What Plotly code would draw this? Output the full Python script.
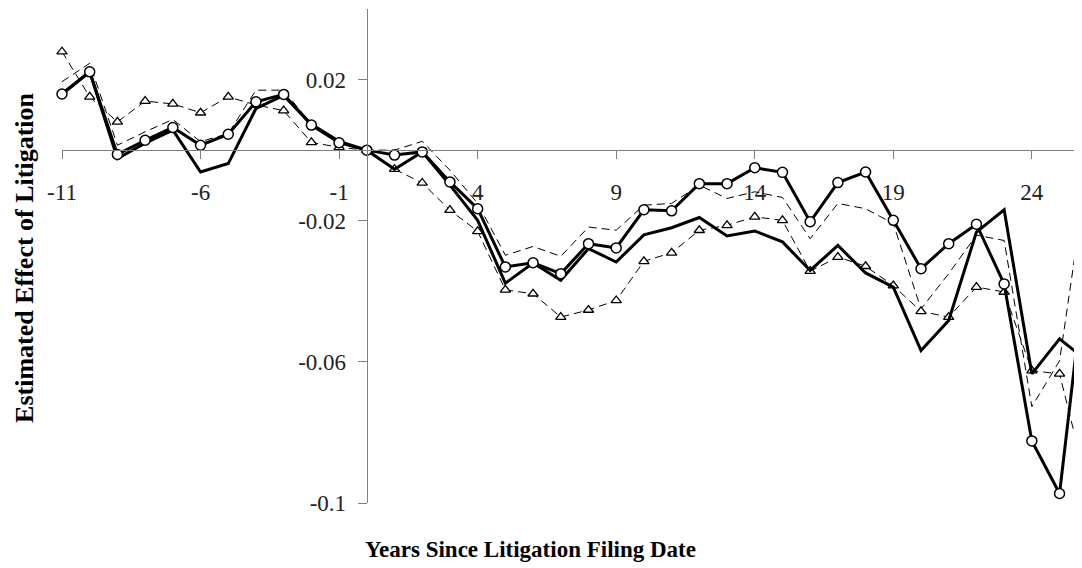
import plotly.graph_objects as go

years = list(range(-11, 27))

# Solid thick line with open circles
series_a = [0.0159, 0.0222, -0.0012, 0.0028, 0.0064, 0.0014, 0.0045, 0.0137, 0.0158, 0.0071, 0.0021, 0.0,
            -0.0014, -0.0005, -0.0090, -0.0166, -0.0331, -0.0319, -0.0350, -0.0265, -0.0277,
            -0.0169, -0.0172, -0.0095, -0.0095, -0.0050, -0.0063, -0.0203, -0.0092, -0.0062, -0.0199,
            -0.0336, -0.0265, -0.0210, -0.0379, -0.0824, -0.0973, -0.0300]
# Solid thick line, no markers
series_b = [0.0159, 0.0222, -0.0024, 0.0020, 0.0057, -0.0062, -0.0038, 0.0118, 0.0155, 0.0073, 0.0025, 0.0,
            -0.0054, -0.0005, -0.0099, -0.0199, -0.0377, -0.0320, -0.0369, -0.0279, -0.0317,
            -0.0240, -0.0220, -0.0191, -0.0243, -0.0229, -0.0260, -0.0341, -0.0270, -0.0348, -0.0388,
            -0.0568, -0.0483, -0.0232, -0.0169, -0.0634, -0.0535, -0.0597]
# Thin dashed line with open triangles
series_c = [0.0279, 0.0151, 0.0080, 0.0139, 0.0131, 0.0106, 0.0151, 0.0128, 0.0112, 0.0022, 0.0008, 0.0,
            -0.0054, -0.0093, -0.0170, -0.0230, -0.0396, -0.0407, -0.0473, -0.0453, -0.0426,
            -0.0315, -0.0291, -0.0227, -0.0213, -0.0189, -0.0199, -0.0343, -0.0303, -0.0329, -0.0384,
            -0.0457, -0.0473, -0.0388, -0.0402, -0.0625, -0.0634, -0.0950]
# Thin dashed line, no markers
series_d = [0.0194, 0.0246, 0.0014, 0.0052, 0.0087, 0.0024, 0.0047, 0.0170, 0.0170, 0.0073, 0.0023, 0.0,
            0.0000, 0.0025, -0.0057, -0.0151, -0.0298, -0.0273, -0.0301, -0.0218, -0.0227,
            -0.0156, -0.0151, -0.0099, -0.0137, -0.0118, -0.0134, -0.0251, -0.0151, -0.0166, -0.0208,
            -0.0450, -0.0350, -0.0241, -0.0256, -0.0727, -0.0597, -0.0060]

x_ticks = [-11, -6, -1, 4, 9, 14, 19, 24]
y_ticks = [0.02, -0.02, -0.06, -0.1]
y_tick_labels = ["0.02", "-0.02", "-0.06", "-0.1"]

TICK_FONT = dict(family="Liberation Serif", size=23, color="#222222")
AXIS_COLOR = "#808080"

fig = go.Figure()
fig.add_trace(go.Scatter(x=years, y=series_d, mode="lines",
                         line=dict(color="black", width=1, dash="8px,5px"), showlegend=False))
fig.add_trace(go.Scatter(x=years, y=series_c, mode="lines+markers",
                         line=dict(color="black", width=1, dash="8px,5px"),
                         marker=dict(symbol="triangle-up", size=9, color="white",
                                     line=dict(color="black", width=1.3)),
                         cliponaxis=False, showlegend=False))
fig.add_trace(go.Scatter(x=years, y=series_b, mode="lines",
                         line=dict(color="black", width=3), showlegend=False))
fig.add_trace(go.Scatter(x=years, y=series_a, mode="lines+markers",
                         line=dict(color="black", width=3),
                         marker=dict(symbol="circle", size=10, color="white",
                                     line=dict(color="black", width=1.5)),
                         cliponaxis=False, showlegend=False))

# The page body has an 8px margin, so the figure is sized to end at the window edge.
fig.update_layout(
    width=1074, height=560,
    margin=dict(l=54, r=0, t=1, b=65),
    paper_bgcolor="white", plot_bgcolor="white",
    xaxis=dict(range=[-11, 25.81], tickvals=x_ticks, ticktext=[str(v) for v in x_ticks],
               anchor="free", position=0.7146,
               showline=True, linecolor=AXIS_COLOR, linewidth=1.2,
               ticks="outside", ticklen=8, tickwidth=1.2, tickcolor=AXIS_COLOR,
               tickfont=TICK_FONT, ticklabelstandoff=13,
               showgrid=False, zeroline=False),
    yaxis=dict(range=[-0.1, 0.04], tickvals=y_ticks, ticktext=y_tick_labels,
               anchor="free", position=0.2988,
               showline=True, linecolor=AXIS_COLOR, linewidth=1.2,
               ticks="outside", ticklen=9, tickwidth=1.2, tickcolor=AXIS_COLOR,
               tickfont=TICK_FONT, ticklabelstandoff=7,
               showgrid=False, zeroline=False),
    annotations=[
        dict(text="<b>Estimated Effect of Litigation</b>", xref="paper", yref="paper",
             x=-0.0363, y=0.498, xanchor="center", yanchor="middle", textangle=-90,
             showarrow=False, borderpad=0,
             font=dict(family="Liberation Serif", size=26, color="black")),
        dict(text="<b>Years Since Litigation Filing Date</b>", xref="paper", yref="paper",
             x=0.4598, y=-0.0951, xanchor="center", yanchor="middle",
             showarrow=False, font=dict(family="Liberation Serif", size=23, color="black")),
    ],
)

fig.write_html("out.html")
